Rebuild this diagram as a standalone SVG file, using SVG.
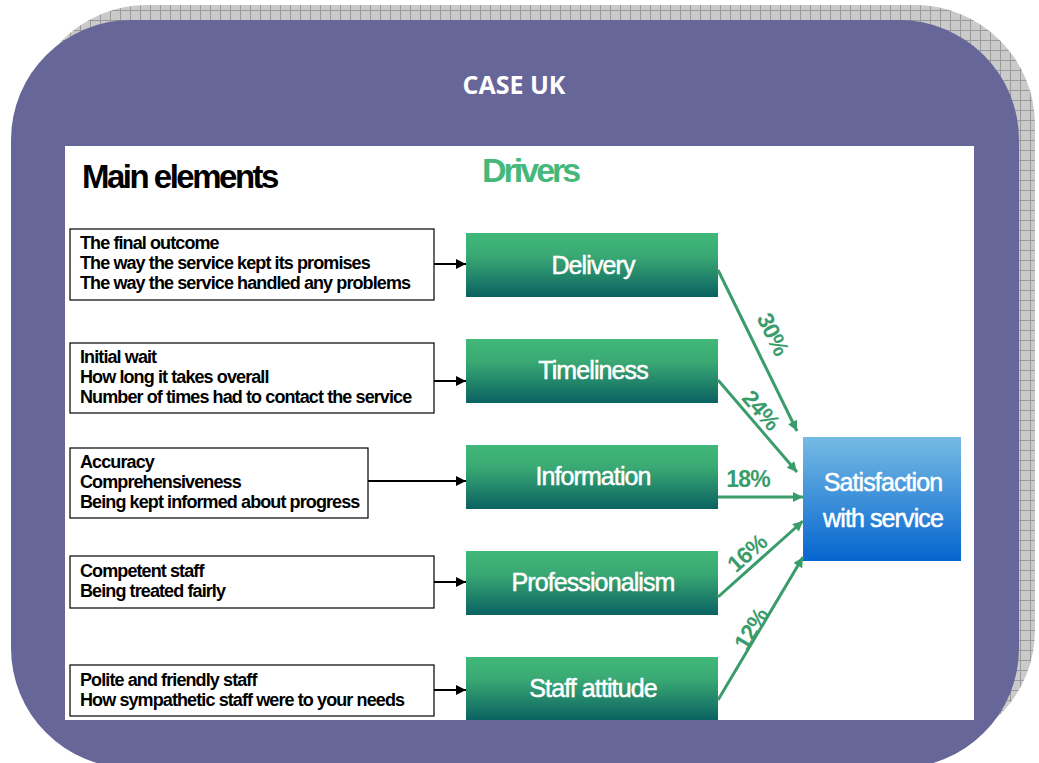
<svg xmlns="http://www.w3.org/2000/svg" width="1039" height="763" viewBox="0 0 1039 763">
<style>
.item{fill:#fff;stroke:#000;stroke-width:1.2}
.itxt{font-family:"Liberation Sans",Arial,sans-serif;font-size:18px;font-weight:bold;letter-spacing:-0.9px;fill:#000}
.drv{fill:url(#gG)}
.dtxt{font-family:"Liberation Sans",Arial,sans-serif;font-size:25px;fill:#fff;stroke:#fff;stroke-width:0.5;letter-spacing:-0.9px;text-anchor:middle}
.pct{font-family:"Liberation Sans",Arial,sans-serif;font-size:23px;font-weight:bold;fill:#3a9c6a;letter-spacing:-0.8px;text-anchor:middle}
.blk{stroke:#000;stroke-width:2;fill:none;marker-end:url(#ab)}
.grn{stroke:#3a9c6a;stroke-width:3;fill:none;marker-end:url(#ag)}
</style>
<defs>
<pattern id="grid" width="10" height="10" patternUnits="userSpaceOnUse">
<rect width="10" height="10" fill="#cacaca"/>
<path d="M0 0.5H10M0.5 0V10" stroke="#9a9a9a" stroke-width="1"/>
</pattern>
<linearGradient id="gG" x1="0" y1="0" x2="0" y2="1">
<stop offset="0" stop-color="#40b878"/>
<stop offset="0.35" stop-color="#3aa974"/>
<stop offset="1" stop-color="#0a6261"/>
</linearGradient>
<linearGradient id="gB" x1="0" y1="0" x2="0" y2="1">
<stop offset="0" stop-color="#76bbe3"/>
<stop offset="1" stop-color="#0565cf"/>
</linearGradient>
<marker id="ab" viewBox="0 0 10 10" refX="10" refY="5" markerWidth="10" markerHeight="10" markerUnits="userSpaceOnUse" orient="auto">
<path d="M0 0L10 5L0 10Z" fill="#000"/>
</marker>
<marker id="ag" viewBox="0 0 10 10" refX="10" refY="5" markerWidth="12" markerHeight="10" markerUnits="userSpaceOnUse" orient="auto">
<path d="M0 0L10 5L0 10Z" fill="#3a9c6a"/>
</marker>
</defs>
<g id="background">
<rect x="27" y="5" width="1008" height="745" rx="120" ry="120" fill="url(#grid)"/>
<rect x="11" y="20" width="1008" height="748" rx="120" ry="120" fill="#666699"/>
<rect x="65" y="146" width="909" height="574" fill="#fff"/>
<text x="514" y="94" font-family="'Open Sans','Liberation Sans',sans-serif" font-size="25" font-weight="bold" fill="#fff" text-anchor="middle">CASE UK</text>
<text x="82" y="188" font-family="'Liberation Sans',Arial,sans-serif" font-size="33" font-weight="bold" letter-spacing="-2.5" fill="#000">Main elements</text>
<text x="482" y="182" font-family="'Liberation Sans',Arial,sans-serif" font-size="34" font-weight="bold" letter-spacing="-3" fill="#45b87a">Drivers</text>
</g>
<g id="item1">
<rect class="item" x="70" y="229" width="364" height="71"/>
<text class="itxt" x="80" y="249">The final outcome</text>
<text class="itxt" x="80" y="269">The way the service kept its promises</text>
<text class="itxt" x="80" y="289">The way the service handled any problems</text>
</g>
<g id="item2">
<rect class="item" x="70" y="343" width="364" height="70"/>
<text class="itxt" x="80" y="363">Initial wait</text>
<text class="itxt" x="80" y="383">How long it takes overall</text>
<text class="itxt" x="80" y="403">Number of times had to contact the service</text>
</g>
<g id="item3">
<rect class="item" x="70" y="448" width="298" height="70"/>
<text class="itxt" x="80" y="468">Accuracy</text>
<text class="itxt" x="80" y="488">Comprehensiveness</text>
<text class="itxt" x="80" y="508">Being kept informed about progress</text>
</g>
<g id="item4">
<rect class="item" x="70" y="556" width="364" height="52"/>
<text class="itxt" x="80" y="577">Competent staff</text>
<text class="itxt" x="80" y="597">Being treated fairly</text>
</g>
<g id="item5">
<rect class="item" x="70" y="665" width="364" height="51"/>
<text class="itxt" x="80" y="686">Polite and friendly staff</text>
<text class="itxt" x="80" y="706">How sympathetic staff were to your needs</text>
</g>
<g id="delivery">
<rect class="drv" x="466" y="233" width="252" height="64"/>
<text class="dtxt" x="593" y="274">Delivery</text>
</g>
<g id="timeliness">
<rect class="drv" x="466" y="339" width="252" height="64"/>
<text class="dtxt" x="593" y="379">Timeliness</text>
</g>
<g id="information">
<rect class="drv" x="466" y="445" width="252" height="64"/>
<text class="dtxt" x="593" y="485">Information</text>
</g>
<g id="professionalism">
<rect class="drv" x="466" y="551" width="252" height="64"/>
<text class="dtxt" x="593" y="591">Professionalism</text>
</g>
<g id="staff-attitude">
<rect class="drv" x="466" y="657" width="252" height="63"/>
<text class="dtxt" x="593" y="697">Staff attitude</text>
</g>
<g id="satisfaction">
<rect x="803" y="437" width="158" height="124" fill="url(#gB)"/>
<text class="dtxt" x="883" y="491" font-size="26" letter-spacing="-0.4">Satisfaction</text>
<text class="dtxt" x="883" y="527" font-size="26" letter-spacing="-0.4">with service</text>
</g>
<g id="connectors">
<line class="blk" x1="434" y1="264" x2="466" y2="264"/>
<line class="blk" x1="434" y1="381" x2="466" y2="381"/>
<line class="blk" x1="368" y1="481" x2="466" y2="481"/>
<line class="blk" x1="434" y1="582" x2="466" y2="582"/>
<line class="blk" x1="434" y1="690" x2="466" y2="690"/>
<line class="grn" x1="718" y1="270" x2="797" y2="431"/>
<line class="grn" x1="718" y1="380" x2="797" y2="472"/>
<line class="grn" x1="718" y1="497" x2="803" y2="497"/>
<line class="grn" x1="718" y1="597" x2="803" y2="521"/>
<line class="grn" x1="718" y1="700" x2="803" y2="557"/>
<text class="pct" transform="translate(773 334) rotate(63.7)" y="8">30%</text>
<text class="pct" transform="translate(761 410) rotate(49)" y="8">24%</text>
<text class="pct" x="748" y="487">18%</text>
<text class="pct" transform="translate(747 553) rotate(-41.8)" y="8">16%</text>
<text class="pct" transform="translate(751 629) rotate(-59.3)" y="8">12%</text>
</g>
</svg>
